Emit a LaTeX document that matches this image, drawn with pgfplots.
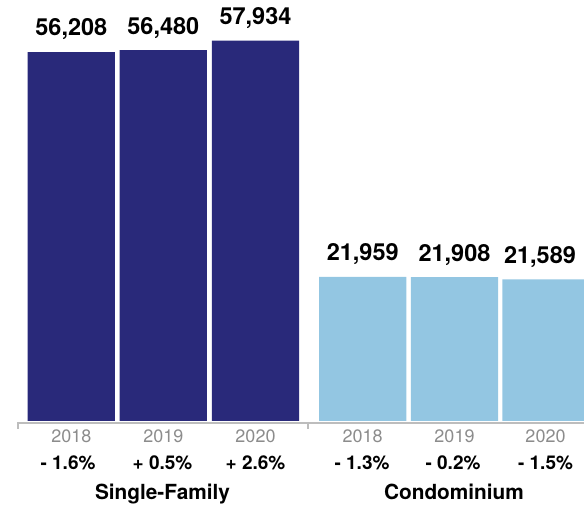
\documentclass[border=0pt]{standalone}
\usepackage{pgfplots}
\pgfplotsset{compat=1.18}
\usepackage{fontspec}
\setmainfont{TeX Gyre Heros}
\definecolor{navy}{HTML}{29297A}
\definecolor{lblue}{HTML}{93C6E2}
\definecolor{axgray}{HTML}{BDBDBD}
\definecolor{yrgray}{HTML}{8C8C8C}
\newcommand{\vl}{\fontsize{23.5bp}{26bp}\selectfont\bfseries}
\newcommand{\yl}{\fontsize{18bp}{20bp}\selectfont\color{yrgray}}
\newcommand{\pl}{\fontsize{19bp}{21bp}\selectfont\bfseries}
\newcommand{\cl}{\fontsize{20.8bp}{23bp}\selectfont\bfseries}
\begin{document}
\begin{tikzpicture}[x=1bp,y=1bp]
\path[use as bounding box] (0,-87) rectangle (584,421);
\begin{axis}[at={(0,0)}, anchor=south west, scale only axis,
  width=584bp, height=421bp, xmin=0, xmax=584, ymin=0, ymax=64134,
  hide axis, ybar, bar width=87.3bp, bar shift=0pt]
\addplot[fill=navy, draw=none] coordinates {(71.3,56208) (163.3,56480) (255.5,57934)};
\addplot[fill=lblue, draw=none] coordinates {(362.7,21959) (454.5,21908) (546,21589)};
\end{axis}
% axis line and ticks
\draw[axgray, line width=2bp] (17.5,-2) -- (584,-2);
\draw[axgray, line width=2bp] (17.5,-1) -- (17.5,-8);
\draw[axgray, line width=2bp] (308,-1) -- (308,-8);
% value labels
\node[anchor=base] at (71.3,385) {\vl 56,208};
\node[anchor=base] at (163.3,386.8) {\vl 56,480};
\node[anchor=base] at (255.5,396.3) {\vl 57,934};
\node[anchor=base] at (362.7,160.1) {\vl 21,959};
\node[anchor=base] at (454.5,159.8) {\vl 21,908};
\node[anchor=base] at (540,157.7) {\vl 21,589};
% years
\foreach \x in {71.3,362.7} \node[anchor=base] at (\x,-22) {\yl 2018};
\foreach \x in {163.3,454.5} \node[anchor=base] at (\x,-22) {\yl 2019};
\foreach \x in {255.5,545.5} \node[anchor=base] at (\x,-22) {\yl 2020};
% percents
\node[anchor=base] at (68,-49) {\pl - 1.6\%};
\node[anchor=base] at (162.5,-49) {\pl + 0.5\%};
\node[anchor=base] at (255.5,-49) {\pl + 2.6\%};
\node[anchor=base] at (362,-49) {\pl - 1.3\%};
\node[anchor=base] at (453,-49) {\pl - 0.2\%};
\node[anchor=base] at (545.5,-49) {\pl - 1.5\%};
% categories
\node[anchor=base] at (162.5,-79) {\cl Single-Family};
\node[anchor=base] at (454,-79) {\cl Condominium};
\end{tikzpicture}
\end{document}
